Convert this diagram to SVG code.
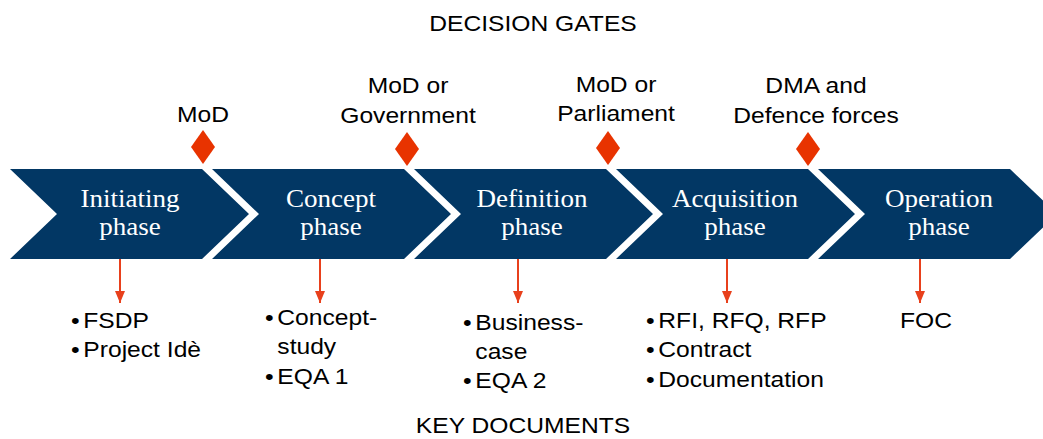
<svg xmlns="http://www.w3.org/2000/svg" width="1043" height="439" viewBox="0 0 1043 439">
<defs>
<style>
.chev{fill:#023764}
.gate{fill:#E83300}
.conn{stroke:#E8401C;stroke-width:2;fill:none}
.ph{font-family:"Liberation Serif","Times New Roman",serif;font-size:26px;fill:#ffffff;text-anchor:middle}
.lb{font-family:"Liberation Sans",Arial,sans-serif;font-size:22px;fill:#000000}
.mid{text-anchor:middle}
</style>
<marker id="ah" viewBox="0 0 12 10" refX="12" refY="5" markerWidth="12" markerHeight="10" markerUnits="userSpaceOnUse" orient="auto">
<path d="M0,0 L12,5 L0,10 Z" fill="#E8401C"/>
</marker>
</defs>
<rect width="1043" height="439" fill="#ffffff"/>
<g id="title-gates"><g transform="translate(533,31) scale(1.12 1)"><text class="lb mid">DECISION GATES</text></g></g>
<g id="title-docs"><g transform="translate(523,433) scale(1.12 1)"><text class="lb mid">KEY DOCUMENTS</text></g></g>

<g id="phase-initiating">
<polygon class="chev" points="10,169 202,169 249,214 202,259 10,259 57,214"/>
<g transform="translate(130,207) scale(1.04 1)"><text class="ph">Initiating</text><text class="ph" y="28">phase</text></g>
</g>
<g id="phase-concept">
<polygon class="chev" points="212,169 404,169 451,214 404,259 212,259 259,214"/>
<g transform="translate(331,207) scale(1.04 1)"><text class="ph">Concept</text><text class="ph" y="28">phase</text></g>
</g>
<g id="phase-definition">
<polygon class="chev" points="414,169 606,169 653,214 606,259 414,259 461,214"/>
<g transform="translate(532,207) scale(1.04 1)"><text class="ph">Definition</text><text class="ph" y="28">phase</text></g>
</g>
<g id="phase-acquisition">
<polygon class="chev" points="616,169 808,169 855,214 808,259 616,259 663,214"/>
<g transform="translate(735,207) scale(1.04 1)"><text class="ph">Acquisition</text><text class="ph" y="28">phase</text></g>
</g>
<g id="phase-operation">
<polygon class="chev" points="818,169 1010,169 1057,214 1010,259 818,259 865,214"/>
<g transform="translate(939,207) scale(1.04 1)"><text class="ph">Operation</text><text class="ph" y="28">phase</text></g>
</g>

<g id="gate-1">
<polygon class="gate" points="203,130 215,147 203,164 191,147"/>
<g transform="translate(203,122) scale(1.12 1)"><text class="lb mid">MoD</text></g>
</g>
<g id="gate-2">
<polygon class="gate" points="407,132 419,149 407,166 395,149"/>
<g transform="translate(408,93) scale(1.12 1)"><text class="lb mid">MoD or</text><text class="lb mid" y="30">Government</text></g>
</g>
<g id="gate-3">
<polygon class="gate" points="608,131 620,148 608,165 596,148"/>
<g transform="translate(616,92) scale(1.12 1)"><text class="lb mid">MoD or</text><text class="lb mid" y="29">Parliament</text></g>
</g>
<g id="gate-4">
<polygon class="gate" points="808,132 820,149 808,166 796,149"/>
<g transform="translate(816,93) scale(1.12 1)"><text class="lb mid">DMA and</text><text class="lb mid" y="30">Defence forces</text></g>
</g>

<g id="connectors">
<line class="conn" x1="120" y1="259" x2="120" y2="303" marker-end="url(#ah)"/>
<line class="conn" x1="320" y1="259" x2="320" y2="303" marker-end="url(#ah)"/>
<line class="conn" x1="518" y1="259" x2="518" y2="303" marker-end="url(#ah)"/>
<line class="conn" x1="727" y1="259" x2="727" y2="303" marker-end="url(#ah)"/>
<line class="conn" x1="920" y1="259" x2="920" y2="303" marker-end="url(#ah)"/>
</g>

<g id="docs-initiating" transform="translate(71,0) scale(1.12 1)">
<text class="lb" y="328">•<tspan x="11">FSDP</tspan></text>
<text class="lb" y="357">•<tspan x="11">Project Idè</tspan></text>
</g>
<g id="docs-concept" transform="translate(265,0) scale(1.12 1)">
<text class="lb" y="325">•<tspan x="11">Concept-</tspan></text>
<text class="lb" y="354" x="11">study</text>
<text class="lb" y="384">•<tspan x="11">EQA 1</tspan></text>
</g>
<g id="docs-definition" transform="translate(463,0) scale(1.12 1)">
<text class="lb" y="330">•<tspan x="11">Business-</tspan></text>
<text class="lb" y="359" x="11">case</text>
<text class="lb" y="388">•<tspan x="11">EQA 2</tspan></text>
</g>
<g id="docs-acquisition" transform="translate(646,0) scale(1.12 1)">
<text class="lb" y="328">•<tspan x="11">RFI, RFQ, RFP</tspan></text>
<text class="lb" y="357">•<tspan x="11">Contract</tspan></text>
<text class="lb" y="387">•<tspan x="11">Documentation</tspan></text>
</g>
<g id="docs-operation" transform="translate(900,0) scale(1.12 1)">
<text class="lb" y="328">FOC</text>
</g>
</svg>
